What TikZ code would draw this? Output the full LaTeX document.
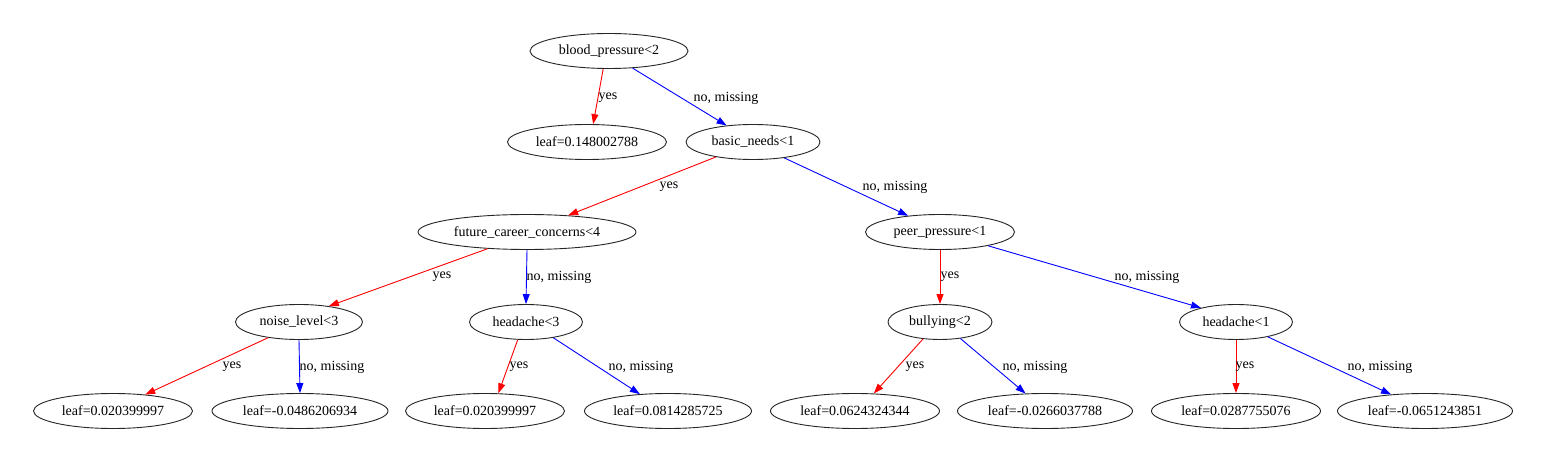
\documentclass[tikz,border=0pt]{standalone}
\usepackage{fontspec}
\setmainfont{Liberation Serif}
\usetikzlibrary{shapes.geometric,arrows.meta}
\newcommand{\zt}[1]{\makebox[0pt]{#1}}
\begin{document}
\begin{tikzpicture}[x=1pt,y=-1pt,
  tnode/.style={ellipse,draw=black!85,line width=0.9pt,inner sep=0pt,minimum height=35pt,font=\fontsize{14}{16}\selectfont},
  yesedge/.style={draw=red,line width=0.9pt,-{Triangle[length=10pt,width=7pt]}},
  noedge/.style={draw=blue,line width=0.9pt,-{Triangle[length=10pt,width=7pt]}},
  elabel/.style={font=\fontsize{14}{16}\selectfont,inner sep=0pt}]
\useasboundingbox[fill=white] (0,-1) rectangle (1548,461);
% nodes
\node[tnode,minimum width=158pt] (bp) at (609,50) {\zt{blood\_pressure<2}};
\node[tnode,minimum width=159pt] (l0) at (587,141) {\zt{leaf=0.148002788}};
\node[tnode,minimum width=134pt] (bn) at (753,141) {\zt{basic\_needs<1}};
\node[tnode,minimum width=218pt] (fcc) at (527,231) {\zt{future\_career\_concerns<4}};
\node[tnode,minimum width=149pt] (pp) at (940,231) {\zt{peer\_pressure<1}};
\node[tnode,minimum width=127pt] (nl) at (299,321) {\zt{noise\_level<3}};
\node[tnode,minimum width=113pt] (ha) at (526,321) {\zt{headache<3}};
\node[tnode,minimum width=104pt] (bu) at (940,321) {\zt{bullying<2}};
\node[tnode,minimum width=113pt] (hb) at (1236,321) {\zt{headache<1}};
\node[tnode,minimum width=159pt] (l1) at (113,410) {\zt{leaf=0.020399997}};
\node[tnode,minimum width=176pt] (l2) at (300,410) {\zt{leaf=-0.0486206934}};
\node[tnode,minimum width=159pt] (l3) at (485,410) {\zt{leaf=0.020399997}};
\node[tnode,minimum width=167pt] (l4) at (668,410) {\zt{leaf=0.0814285725}};
\node[tnode,minimum width=169pt] (l5) at (855,410) {\zt{leaf=0.0624324344}};
\node[tnode,minimum width=175pt] (l6) at (1045,410) {\zt{leaf=-0.0266037788}};
\node[tnode,minimum width=169pt] (l7) at (1236,410) {\zt{leaf=0.0287755076}};
\node[tnode,minimum width=175pt] (l8) at (1425,410) {\zt{leaf=-0.0651243851}};
% edges
\draw[yesedge] (bp.-108) -- (l0.71);
\draw[noedge] (bp.-36) -- (bn.148);
\draw[yesedge] (bn.-158) -- (fcc.22);
\draw[noedge] (bn.-27) -- (pp.153);
\draw[yesedge] (fcc.-157) -- (nl.28);
\draw[noedge] (fcc.-90) -- (ha.90);
\draw[yesedge] (pp.-90) -- (bu.90);
\draw[noedge] (pp.-16) -- (hb.158);
\draw[yesedge] (nl.-153) -- (l1.27);
\draw[noedge] (nl.-90) -- (l2.90);
\draw[yesedge] (ha.-115) -- (l3.53);
\draw[noedge] (ha.-30) -- (l4.149);
\draw[yesedge] (bu.-135) -- (l5.43);
\draw[noedge] (bu.-39) -- (l6.138);
\draw[yesedge] (hb.-90) -- (l7.90);
\draw[noedge] (hb.-25) -- (l8.154);
% labels
\node[elabel] (t1) at (608,97) {yes};
\node[elabel] (t2) at (726,97) {no, missing};
\node[elabel] (t3) at (669,186) {yes};
\node[elabel] (t4) at (895,186) {no, missing};
\node[elabel] (t5) at (442,276) {yes};
\node[elabel] (t6) at (559,276) {no, missing};
\node[elabel] (t7) at (950,276) {yes};
\node[elabel] (t8) at (1147,276) {no, missing};
\node[elabel] (t9) at (232,366) {yes};
\node[elabel] (t10) at (332,366) {no, missing};
\node[elabel] (t11) at (519,366) {yes};
\node[elabel] (t12) at (641,366) {no, missing};
\node[elabel] (t13) at (915,366) {yes};
\node[elabel] (t14) at (1035,366) {no, missing};
\node[elabel] (t15) at (1245,366) {yes};
\node[elabel] (t16) at (1380,366) {no, missing};
\end{tikzpicture}
\end{document}
